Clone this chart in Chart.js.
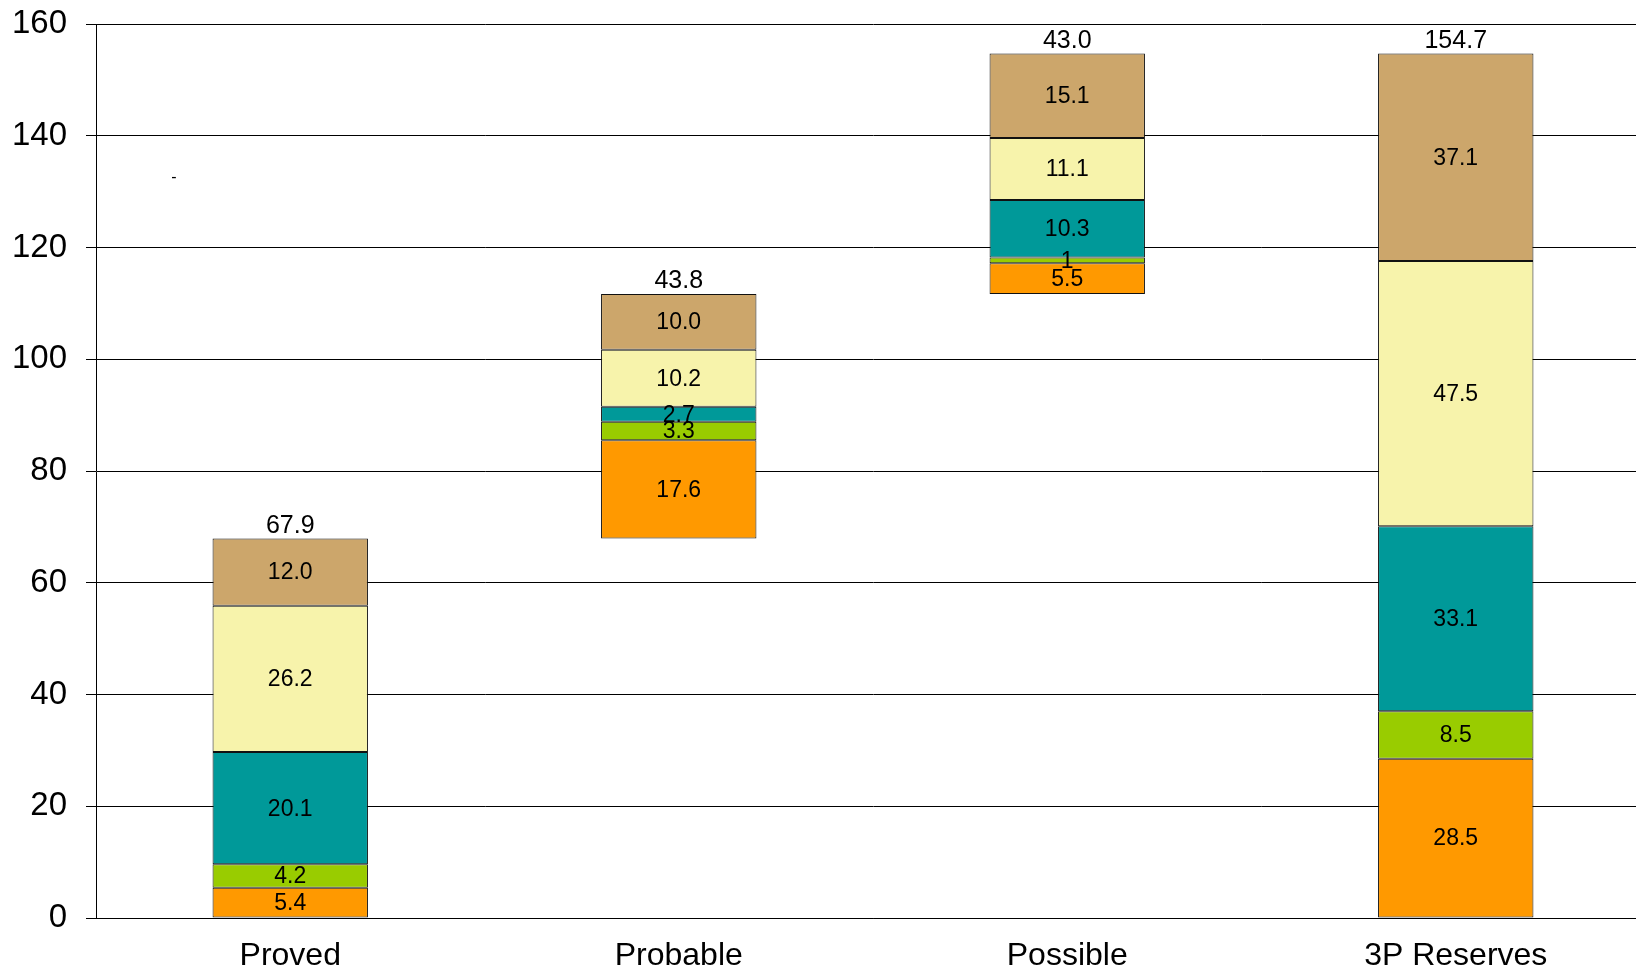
<!DOCTYPE html>
<html>
<head>
<meta charset="utf-8">
<script src="https://cdn.jsdelivr.net/npm/chart.js@4.4.1/dist/chart.umd.min.js"></script>
<style>
html,body{margin:0;padding:0;background:#fff;overflow:hidden;}
#wrap{width:1636px;height:969px;position:relative;overflow:hidden;}
</style>
</head>
<body>
<div id="wrap"><canvas id="c" width="1650" height="969"></canvas></div>
<script>
const categories = ['Proved', 'Probable', 'Possible', '3P Reserves'];
const baseOffsets = [0, 67.9, 111.7, 0];
const orangeValues = [5.4, 17.6, 5.5, 28.5];
const greenValues = [4.2, 3.3, 1, 8.5];
const tealValues = [20.1, 2.7, 10.3, 33.1];
const yellowValues = [26.2, 10.2, 11.1, 47.5];
const tanValues = [12.0, 10.0, 15.1, 37.1];
const totals = [67.9, 43.8, 43.0, 154.7];
const yTicks = [0, 20, 40, 60, 80, 100, 120, 140, 160];

const FONT = "'Liberation Sans', Arial, sans-serif";

function fmt(v) { return v === 1 ? '1' : v.toFixed(1); }

const labelPlugin = {
  id: 'labels',
  afterDatasetsDraw(chart) {
    const ctx = chart.ctx;
    ctx.save();
    ctx.fillStyle = '#000';
    ctx.textAlign = 'center';
    ctx.textBaseline = 'middle';
    ctx.font = '23px ' + FONT;
    chart.data.datasets.forEach((ds, di) => {
      if (di === 0) return;
      const meta = chart.getDatasetMeta(di);
      meta.data.forEach((el, i) => {
        const v = ds.data[i];
        ctx.fillText(fmt(v), el.x, (el.y + el.base) / 2 + 1);
      });
    });
    const last = chart.getDatasetMeta(chart.data.datasets.length - 1);
    ctx.font = '25px ' + FONT;
    ctx.textBaseline = 'alphabetic';
    last.data.forEach((el, i) => {
      ctx.fillText(totals[i].toFixed(1), el.x, el.y - 6);
    });
    ctx.font = '16px ' + FONT;
    ctx.fillText('-', 174, 182);
    ctx.restore();
  }
};

const mk = (label, data, color) => ({
  label, data, backgroundColor: color, borderColor: '#111', borderWidth: 1,
  borderSkipped: false, categoryPercentage: 1, barPercentage: 0.4
});

new Chart(document.getElementById('c'), {
  type: 'bar',
  data: {
    labels: categories,
    datasets: [
      { label: 'base', data: baseOffsets, backgroundColor: 'rgba(0,0,0,0)', borderWidth: 0, categoryPercentage: 1, barPercentage: 0.4 },
      mk('s1', orangeValues, '#FF9900'),
      mk('s2', greenValues, '#99CC00'),
      mk('s3', tealValues, '#009999'),
      mk('s4', yellowValues, '#F7F3AB'),
      mk('s5', tanValues, '#CCA66B')
    ]
  },
  options: {
    responsive: false,
    animation: false,
    devicePixelRatio: 1,
    layout: { padding: { top: 24, right: 0, left: 0, bottom: 0 } },
    plugins: { legend: { display: false }, tooltip: { enabled: false } },
    scales: {
      x: {
        stacked: true,
        grid: { display: false, drawTicks: false },
        border: { display: true, color: '#000', width: 1 },
        ticks: { color: '#000', font: { family: FONT, size: 32 }, padding: 19, maxRotation: 0 },
        afterFit(s) { s.height = 51; s.paddingLeft = 0; s.paddingRight = 0; }
      },
      y: {
        stacked: true,
        min: 0, max: 160,
        afterBuildTicks(s) { s.ticks = yTicks.map(v => ({ value: v })); },
        grid: { color: '#000', lineWidth: 1, drawTicks: true, tickLength: 10 },
        border: { display: true, color: '#000', width: 1 },
        ticks: { color: '#000', font: { family: FONT, size: 33 }, padding: 19 },
        afterFit(s) { s.width = 96; s.paddingTop = 0; s.paddingBottom = 0; }
      }
    }
  },
  plugins: [labelPlugin]
});
</script>
</body>
</html>
